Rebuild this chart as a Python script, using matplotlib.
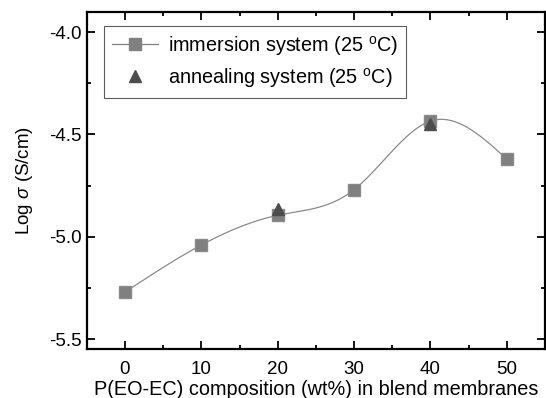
import numpy as np
import matplotlib
matplotlib.use('Agg')
import matplotlib.pyplot as plt
from matplotlib.ticker import MultipleLocator

plt.rcParams['font.family'] = ['Liberation Sans', 'DejaVu Sans']
plt.rcParams['mathtext.fontset'] = 'custom'
plt.rcParams['mathtext.rm'] = 'Liberation Sans'
plt.rcParams['mathtext.it'] = 'Liberation Sans:italic'

composition = [0, 10, 20, 30, 40, 50]
immersion = [-5.27, -5.04, -4.895, -4.77, -4.435, -4.62]
annealing_x = [20, 40]
annealing = [-4.865, -4.45]

x_ticks = [0, 10, 20, 30, 40, 50]
y_ticks = [-5.5, -5.0, -4.5, -4.0]


def natural_spline(xs, ys, n=300):
    xs = np.asarray(xs, float)
    ys = np.asarray(ys, float)
    k = len(xs)
    h = np.diff(xs)
    a = np.zeros((k, k))
    b = np.zeros(k)
    a[0, 0] = a[-1, -1] = 1
    for i in range(1, k - 1):
        a[i, i - 1] = h[i - 1]
        a[i, i] = 2 * (h[i - 1] + h[i])
        a[i, i + 1] = h[i]
        b[i] = 6 * ((ys[i + 1] - ys[i]) / h[i] - (ys[i] - ys[i - 1]) / h[i - 1])
    m = np.linalg.solve(a, b)
    xx = np.linspace(xs[0], xs[-1], n)
    idx = np.clip(np.searchsorted(xs, xx) - 1, 0, k - 2)
    x0, x1 = xs[idx], xs[idx + 1]
    hh = x1 - x0
    t0, t1 = x1 - xx, xx - x0
    yy = (m[idx] * t0 ** 3 + m[idx + 1] * t1 ** 3) / (6 * hh) \
        + (ys[idx] / hh - m[idx] * hh / 6) * t0 \
        + (ys[idx + 1] / hh - m[idx + 1] * hh / 6) * t1
    return xx, yy


fig = plt.figure(figsize=(5.46, 3.98), dpi=100)
ax = fig.add_axes([0.159, 0.122, 0.839, 0.849])

xx, yy = natural_spline(composition, immersion)
ax.plot(xx, yy, color='#8a8a8a', lw=0.9, zorder=2)
ax.plot(composition, immersion, 's', color='#808080', ms=8, mec='#8a8a8a', zorder=3)
ax.plot([], [], '-s', color='#808080', lw=0.9, ms=8, label=r'immersion system (25 $^{\mathrm{o}}$C)')
ax.plot(annealing_x, annealing, '^', color='#4d4d4d', ms=9, zorder=4,
        label=r'annealing system (25 $^{\mathrm{o}}$C)')

ax.set_xlim(-5, 55)
ax.set_ylim(-5.55, -3.9)
ax.set_xticks(x_ticks)
ax.set_yticks(y_ticks)
ax.set_yticklabels(['%.1f' % v for v in y_ticks])
ax.xaxis.set_minor_locator(MultipleLocator(5))
ax.yaxis.set_minor_locator(MultipleLocator(0.25))
ax.tick_params(which='both', direction='in', top=True, right=True, width=1.3, labelsize=13.5)
ax.tick_params(which='major', length=6)
ax.tick_params(which='minor', length=3)
ax.tick_params(axis='x', pad=8)
ax.tick_params(axis='y', pad=4)
for s in ax.spines.values():
    s.set_linewidth(1.6)

ax.set_xlabel('P(EO-EC) composition (wt%) in blend membranes', fontsize=14.3, labelpad=1.5)
ax.set_ylabel(r'Log $\sigma$ (S/cm)', fontsize=13.5, labelpad=10)

leg = ax.legend(loc='upper left', bbox_to_anchor=(0.038, 0.958), fontsize=14.3, frameon=True,
                fancybox=False, edgecolor='#333333', handlelength=2.3, borderpad=0.4,
                labelspacing=0.4, handletextpad=0.5, borderaxespad=0)
leg.get_frame().set_linewidth(0.8)

fig.savefig('out.png', dpi=100)
